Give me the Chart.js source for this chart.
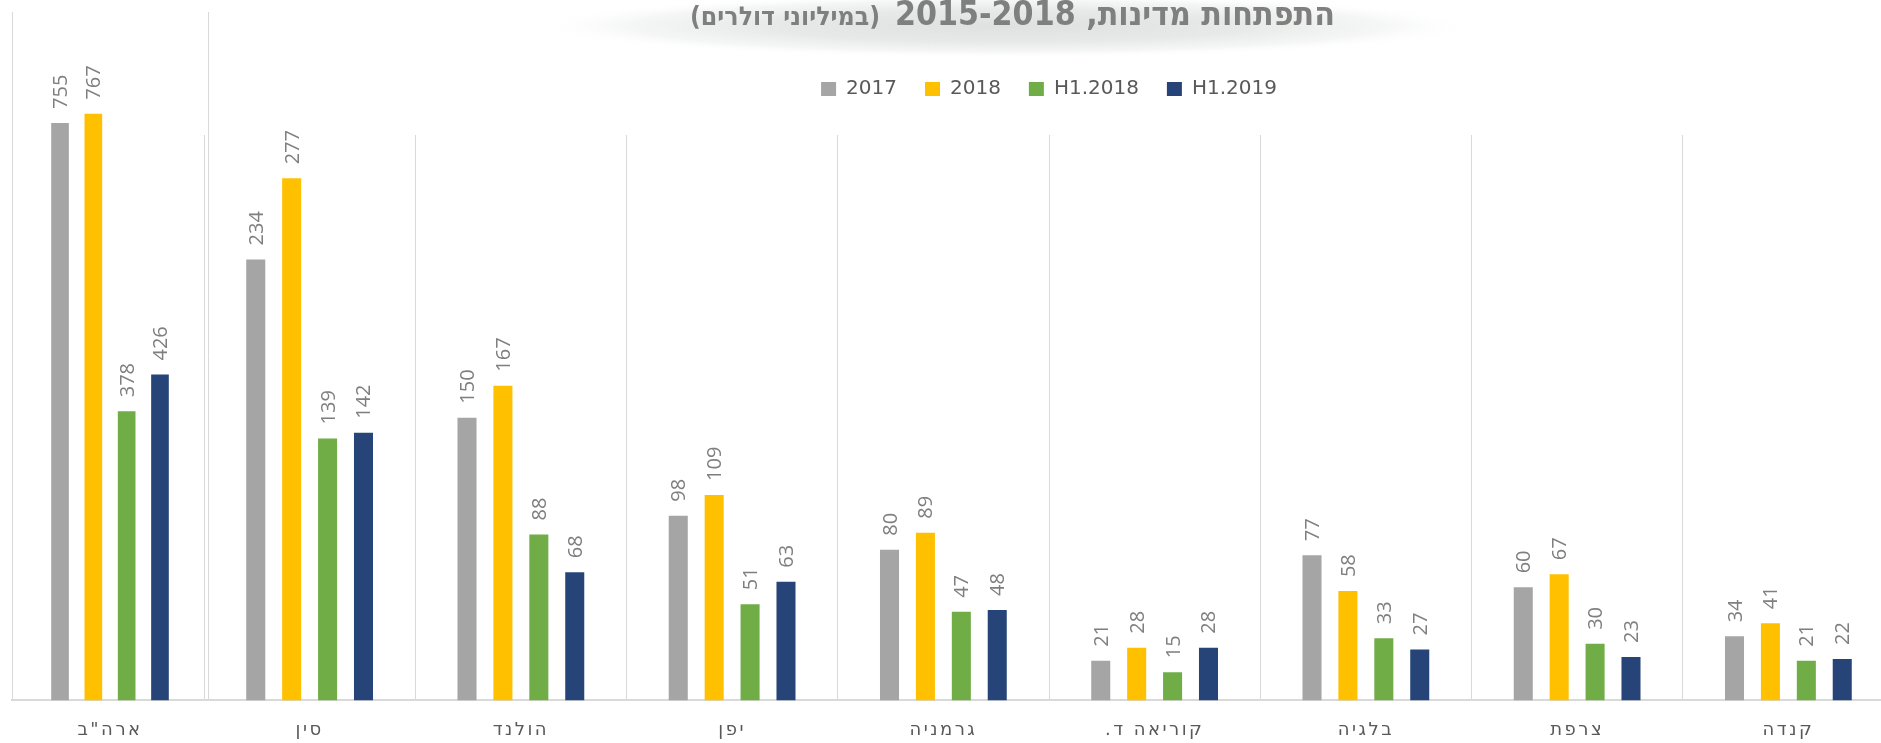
<!DOCTYPE html>
<html lang="he">
<head>
<meta charset="utf-8">
<script src="https://cdn.jsdelivr.net/npm/chart.js@4.4.1/dist/chart.umd.min.js"></script>
<style>
  html, body { margin: 0; padding: 0; background: #fff; overflow: hidden; }
  #wrap { position: relative; width: 1881px; height: 743px; overflow: hidden; }
  canvas { position: absolute; left: 0; top: 0; }
</style>
</head>
<body>
<div id="wrap">
  <canvas id="usa" width="230" height="760"></canvas>
  <canvas id="others" width="1920" height="760"></canvas>
</div>
<script>
// data
const countries = ['ארה"ב', 'סין', 'הולנד', 'יפן', 'גרמניה', 'קוריאה ד.', 'בלגיה', 'צרפת', 'קנדה']
const values2017 = [755, 234, 150, 98, 80, 21, 77, 60, 34]
const values2018 = [767, 277, 167, 109, 89, 28, 58, 67, 41]
const valuesH1_2018 = [378, 139, 88, 51, 47, 15, 33, 30, 21]
const valuesH1_2019 = [426, 142, 68, 63, 48, 28, 27, 23, 22]
const seriesNames = ['2017', '2018', 'H1.2018', 'H1.2019']
const seriesColors = ['#a5a5a5', '#ffc000', '#70ad47', '#264478']
const titleMain = 'התפתחות מדינות, 2015-2018'
const titleSub = '(במיליוני דולרים)'

const buildDatasets = (from, to) => [values2017, values2018, valuesH1_2018, valuesH1_2019].map((vals, i) => ({
    label: seriesNames[i],
    data: vals.slice(from, to),
    backgroundColor: seriesColors[i],
    borderWidth: 0,
    categoryPercentage: 0.68,
    barPercentage: 0.53,
}))

const xAxis = () => ({
    grid: { offset: true, color: '#d9d9d9', lineWidth: 1, drawTicks: false },
    border: { color: '#d9d9d9', width: 2 },
    ticks: {
        color: '#595959',
        font: { family: '"DejaVu Sans"', size: 18 },
        padding: 19,
        z: 1,
        maxRotation: 0,
        autoSkip: false,
    },
})

// value labels above the bars, rotated
const valueLabels = {
    id: 'valueLabels',
    afterDatasetsDraw(chart) {
        const ctx = chart.ctx
        ctx.save()
        ctx.font = '20px "Open Sans"'
        ctx.fillStyle = '#7f7f7f'
        ctx.textAlign = 'left'
        ctx.textBaseline = 'alphabetic'
        chart.data.datasets.forEach((ds, i) => {
            chart.getDatasetMeta(i).data.forEach((bar, j) => {
                ctx.save()
                ctx.translate(bar.x, bar.y - 14)
                ctx.rotate(-Math.PI / 2)
                ctx.fillText(ds.data[j], 0, 7)
                ctx.restore()
            })
        })
        ctx.restore()
        // hebrew category labels: right-to-left, spaced letters (drawn after datasets, z: 1)
        ctx.letterSpacing = '2.5px'
        ctx.direction = 'rtl'
    },
    afterDraw(chart) {
        chart.ctx.letterSpacing = '0px'
        chart.ctx.direction = 'inherit'
    }
}

// title with the soft grey glow behind it
const titleGlow = {
    id: 'titleGlow',
    beforeDraw(chart) {
        const ctx = chart.ctx
        ctx.save()
        ctx.translate(1006, 26)
        ctx.scale(1, 0.068)
        const g = ctx.createRadialGradient(0, 0, 0, 0, 0, 470)
        g.addColorStop(0, 'rgba(222,225,223,1)')
        g.addColorStop(0.5, 'rgba(229,232,230,0.95)')
        g.addColorStop(0.8, 'rgba(238,240,239,0.6)')
        g.addColorStop(1, 'rgba(255,255,255,0)')
        ctx.fillStyle = g
        ctx.fillRect(-470, -470, 940, 940)
        ctx.restore()

        ctx.save()
        ctx.fillStyle = '#7f7f7f'
        ctx.direction = 'rtl'
        ctx.textAlign = 'right'
        ctx.textBaseline = 'alphabetic'

        ctx.font = 'bold 33px "DejaVu Sans"'
        let sx = 440 / ctx.measureText(titleMain).width
        ctx.save()
        ctx.translate(1335, 25)
        ctx.scale(sx, 1)
        ctx.fillText(titleMain, 0, 0)
        ctx.restore()

        ctx.font = 'bold 26px "DejaVu Sans"'
        sx = 190 / ctx.measureText(titleSub).width
        ctx.translate(880, 25)
        ctx.scale(sx, 1)
        ctx.fillText(titleSub, 0, 0)
        ctx.restore()
    }
}

// US on its own scale
let chartUsa = new Chart(document.getElementById('usa'), {
    type: 'bar',
    data: { labels: countries.slice(0, 1), datasets: buildDatasets(0, 1) },
    options: {
        responsive: false,
        animation: false,
        events: [],
        layout: { padding: { left: 12, right: 22, top: 12, bottom: 0 } },
        scales: {
            x: xAxis(),
            y: { display: false, min: 0, max: 900 }
        },
        plugins: {
            legend: { display: false },
            tooltip: { enabled: false }
        }
    },
    plugins: [valueLabels]
})

// the other countries
let chartOthers = new Chart(document.getElementById('others'), {
    type: 'bar',
    data: { labels: countries.slice(1), datasets: buildDatasets(1, countries.length) },
    options: {
        responsive: false,
        animation: false,
        events: [],
        layout: { padding: { left: 204, right: 26, top: 51, bottom: 0 } },
        scales: {
            x: xAxis(),
            y: { display: false, min: 0, max: 300 }
        },
        plugins: {
            legend: {
                labels: {
                    color: '#595959',
                    font: { family: '"DejaVu Sans"', size: 20 },
                    boxWidth: 15,
                    boxHeight: 14,
                    padding: 28
                }
            },
            // spacer between legend and plot area
            subtitle: {
                display: true,
                text: '',
                weight: 500,
                font: { size: 10, lineHeight: 1 },
                padding: { top: 16, bottom: 0 }
            },
            tooltip: { enabled: false }
        }
    },
    plugins: [titleGlow, valueLabels]
})
</script>
</body>
</html>
